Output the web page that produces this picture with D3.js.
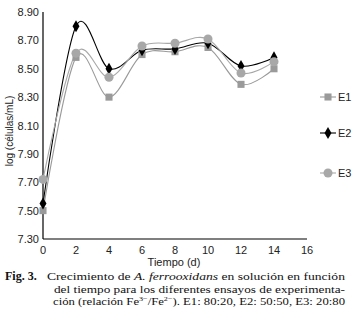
<!DOCTYPE html>
<html>
<head>
<meta charset="utf-8">
<script src="https://cdn.jsdelivr.net/npm/d3@7"></script>
<style>
  body { margin: 0; background: #fff; }
  svg { display: block; }
  .cap { font-family: 'Liberation Serif', 'Times New Roman', serif; font-size: 11px; fill: #111; }
  .sans { font-family: Arial, 'Liberation Sans', sans-serif; fill: #222; }
</style>
</head>
<body>
<div id="chart"><svg width="357" height="322"></svg></div>
<script>
const days = [0, 2, 4, 6, 8, 10, 12, 14]
const e1 = [7.50, 8.58, 8.30, 8.60, 8.62, 8.65, 8.39, 8.50]
const e2 = [7.55, 8.80, 8.50, 8.63, 8.64, 8.68, 8.52, 8.58]
const e3 = [7.72, 8.61, 8.44, 8.66, 8.68, 8.71, 8.47, 8.55]
const seriesNames = ['E1', 'E2', 'E3']
const xTicks = [0, 2, 4, 6, 8, 10, 12, 14, 16]
const yTicks = [7.30, 7.50, 7.70, 7.90, 8.10, 8.30, 8.50, 8.70, 8.90]

const svg = d3.select('#chart svg')

const xScale = d3.scaleLinear().domain([0, 16]).range([43, 307])
const yScale = d3.scaleLinear().domain([7.30, 8.90]).range([239, 12])

const series = [
    { name: seriesNames[0], values: e1, color: '#9a9a9a', shape: d3.symbolSquare, size: 50 },
    { name: seriesNames[1], values: e2, color: '#000', shape: d3.symbolDiamond, size: 42 },
    { name: seriesNames[2], values: e3, color: '#a8a8a8', shape: d3.symbolCircle, size: 64 }
]

// axes lines only, no tick marks
svg.append('line')
    .attr('x1', xScale(0)).attr('x2', xScale(0))
    .attr('y1', yScale(8.90)).attr('y2', yScale(7.30))
    .attr('stroke', '#000').attr('stroke-width', 1.2)
svg.append('line')
    .attr('x1', xScale(0)).attr('x2', xScale(16))
    .attr('y1', yScale(7.30)).attr('y2', yScale(7.30))
    .attr('stroke', '#000').attr('stroke-width', 1.2)

svg.selectAll('text.ytick')
    .data(yTicks)
    .join('text')
    .attr('class', 'ytick sans')
    .text(d => d.toFixed(2))
    .attr('x', 39)
    .attr('y', d => yScale(d) + 4)
    .style('text-anchor', 'end')
    .style('font-size', '11px')

svg.selectAll('text.xtick')
    .data(xTicks)
    .join('text')
    .attr('class', 'xtick sans')
    .text(d => d)
    .attr('x', d => xScale(d))
    .attr('y', 254)
    .style('text-anchor', 'middle')
    .style('font-size', '11px')

svg.append('text')
    .attr('class', 'sans')
    .text('Tiempo (d)')
    .attr('x', 174)
    .attr('y', 266)
    .style('text-anchor', 'middle')
    .style('font-size', '11px')

svg.append('text')
    .attr('class', 'sans')
    .text('log (células/mL)')
    .attr('transform', 'translate(13,131) rotate(-90)')
    .style('text-anchor', 'middle')
    .style('font-size', '10px')

const line = d3.line()
    .x((d, i) => xScale(days[i]))
    .y(d => yScale(d))
    .curve(d3.curveCardinal)

svg.selectAll('path.series')
    .data(series)
    .join('path')
    .attr('class', 'series')
    .attr('d', d => line(d.values))
    .attr('fill', 'none')
    .attr('stroke', d => d.color)
    .attr('stroke-width', 1.1)

series.forEach(s => {
    svg.selectAll('path.mk-' + s.name)
        .data(s.values)
        .join('path')
        .attr('class', 'mk-' + s.name)
        .attr('d', d3.symbol(s.shape, s.size))
        .attr('transform', (d, i) => `translate(${xScale(days[i])},${yScale(d)})`)
        .attr('fill', s.color)
})

// legend
const legendY = [97, 133, 173]
const legend = svg.selectAll('g.legend')
    .data(series)
    .join('g')
    .attr('class', 'legend')
    .attr('transform', (d, i) => `translate(328,${legendY[i]})`)
legend.append('line')
    .attr('x1', -8).attr('x2', 8)
    .attr('stroke', d => d.color).attr('stroke-width', 1.1)
legend.append('path')
    .attr('d', d => d3.symbol(d.shape, d.size)())
    .attr('fill', d => d.color)
legend.append('text')
    .attr('class', 'sans')
    .text(d => d.name)
    .attr('x', 10)
    .attr('y', 4)
    .style('font-size', '11px')

// caption
svg.append('text')
    .attr('class', 'cap')
    .text('Fig. 3.')
    .attr('x', 5).attr('y', 280)
    .style('font-weight', 'bold')
    .style('font-size', '12px')

const cap1 = svg.append('text')
    .attr('class', 'cap')
    .attr('x', 47).attr('y', 280)
    .attr('textLength', 298).attr('lengthAdjust', 'spacingAndGlyphs')
cap1.append('tspan').text('Crecimiento de ')
cap1.append('tspan').text('A. ferrooxidans').style('font-style', 'italic')
cap1.append('tspan').text(' en solución en función')

svg.append('text')
    .attr('class', 'cap')
    .text('del tiempo para los diferentes ensayos de experimenta-')
    .attr('x', 54).attr('y', 292.5)
    .attr('textLength', 291).attr('lengthAdjust', 'spacingAndGlyphs')

const cap3 = svg.append('text')
    .attr('class', 'cap')
    .attr('x', 53).attr('y', 305)
    .attr('textLength', 292).attr('lengthAdjust', 'spacingAndGlyphs')
cap3.append('tspan').text('ción (relación Fe')
cap3.append('tspan').text('3−').attr('dy', -4).style('font-size', '7px')
cap3.append('tspan').text('/Fe').attr('dy', 4)
cap3.append('tspan').text('2−').attr('dy', -4).style('font-size', '7px')
cap3.append('tspan').text('). E1: 80:20, E2: 50:50, E3: 20:80').attr('dy', 4)
</script>
</body>
</html>
